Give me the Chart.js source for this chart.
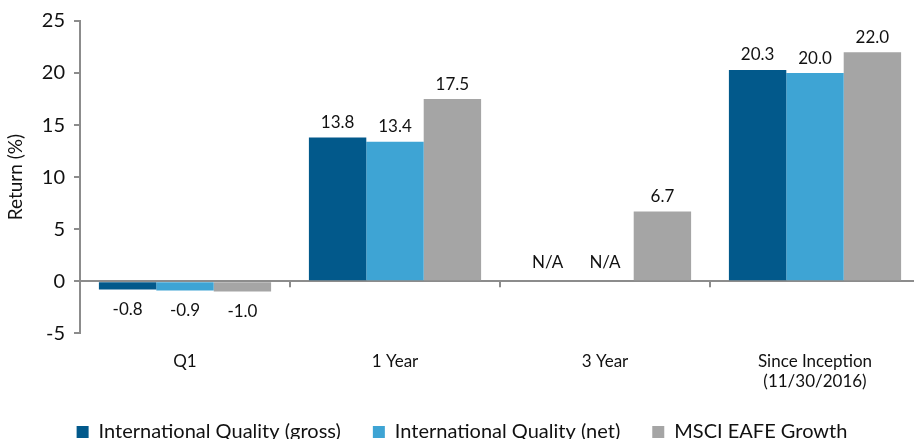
<!DOCTYPE html>
<html>
<head>
<meta charset="utf-8">
<script src="https://cdn.jsdelivr.net/npm/chart.js@4.4.1/dist/chart.umd.min.js"></script>
<style>
  html, body { margin: 0; padding: 0; background: #fff; overflow: hidden; }
  #wrap { position: absolute; left: 0; top: 0; width: 920px; height: 452px; }
</style>
</head>
<body>
<div id="wrap"><canvas id="returnsChart" width="920" height="452"></canvas></div>
<script>
// =====================
// Data
// =====================
const categories = ["Q1", "1 Year", "3 Year", ["Since Inception", "(11/30/2016)"]];
const grossReturns = [-0.8, 13.8, null, 20.3];
const netReturns = [-0.9, 13.4, null, 20.0];
const benchmarkReturns = [-1.0, 17.5, 6.7, 22.0];
const yTicks = [-5, 0, 5, 10, 15, 20, 25];

const FONT = "Lato, 'Open Sans', sans-serif";
const AXIS_GREY = "#8c8c8c";

// =====================
// Value labels (N/A for missing)
// =====================
const valueLabels = {
  id: "valueLabels",
  afterDatasetsDraw(chart) {
    const c = chart.ctx;
    const zero = chart.scales.y.getPixelForValue(0);
    c.save();
    c.font = "17px " + FONT;
    c.fillStyle = "#111";
    c.textAlign = "center";
    c.textBaseline = "middle";
    chart.data.datasets.forEach((ds, i) => {
      const meta = chart.getDatasetMeta(i);
      meta.data.forEach((bar, j) => {
        const v = ds.data[j];
        if (v === null) {
          c.fillText("N/A", bar.x, zero - 19);
        } else if (v >= 0) {
          c.fillText(v.toFixed(1), bar.x, bar.y - 15);
        } else {
          c.fillText(v.toFixed(1), bar.x, bar.y + 20);
        }
      });
    });
    c.restore();
  }
};

// small tick marks hanging from the zero line between categories
const categoryTicks = {
  id: "categoryTicks",
  afterDraw(chart) {
    const c = chart.ctx;
    const x = chart.scales.x;
    const zero = chart.scales.y.getPixelForValue(0);
    c.save();
    c.strokeStyle = AXIS_GREY;
    c.lineWidth = 2;
    for (let k = 1; k < categories.length; k++) {
      const px = (x.getPixelForValue(k - 1) + x.getPixelForValue(k)) / 2;
      c.beginPath();
      c.moveTo(px, zero);
      c.lineTo(px, zero + 6);
      c.stroke();
    }
    c.restore();
  }
};

// =====================
// Chart
// =====================
new Chart(document.getElementById("returnsChart"), {
  type: "bar",
  data: {
    labels: categories,
    datasets: [
      { label: "International Quality (gross)", data: grossReturns, backgroundColor: "#02598b" },
      { label: "International Quality (net)", data: netReturns, backgroundColor: "#3ea4d4" },
      { label: "MSCI EAFE Growth", data: benchmarkReturns, backgroundColor: "#a5a5a5" }
    ]
  },
  options: {
    responsive: false,
    animation: false,
    datasets: { bar: { categoryPercentage: 0.82, barPercentage: 1.0 } },
    layout: { padding: { top: 14, left: 4, right: 0, bottom: 0 } },
    plugins: {
      tooltip: { enabled: false },
      legend: {
        position: "bottom",
        labels: {
          font: { family: FONT, size: 20 },
          color: "#111",
          boxWidth: 12,
          boxHeight: 12,
          padding: 32
        }
      }
    },
    scales: {
      x: {
        grid: { display: false },
        border: { display: false },
        ticks: { font: { family: FONT, size: 17 }, color: "#111", padding: 10, maxRotation: 0 },
        afterFit: axis => { axis.height -= 12; }
      },
      y: {
        min: -5,
        max: 25,
        afterBuildTicks: axis => { axis.ticks = yTicks.map(v => ({ value: v })); },
        border: { color: AXIS_GREY, width: 2 },
        grid: {
          drawOnChartArea: true,
          color: ctx => (ctx.tick && ctx.tick.value === 0 ? AXIS_GREY : "rgba(0,0,0,0)"),
          lineWidth: 2,
          tickColor: AXIS_GREY,
          tickLength: 6
        },
        ticks: { font: { family: FONT, size: 20 }, color: "#111", padding: 9 },
        title: { display: true, text: "Return (%)", font: { family: FONT, size: 19 }, color: "#111", padding: { top: 0, bottom: 6 } }
      }
    }
  },
  plugins: [valueLabels, categoryTicks]
});
</script>
</body>
</html>
